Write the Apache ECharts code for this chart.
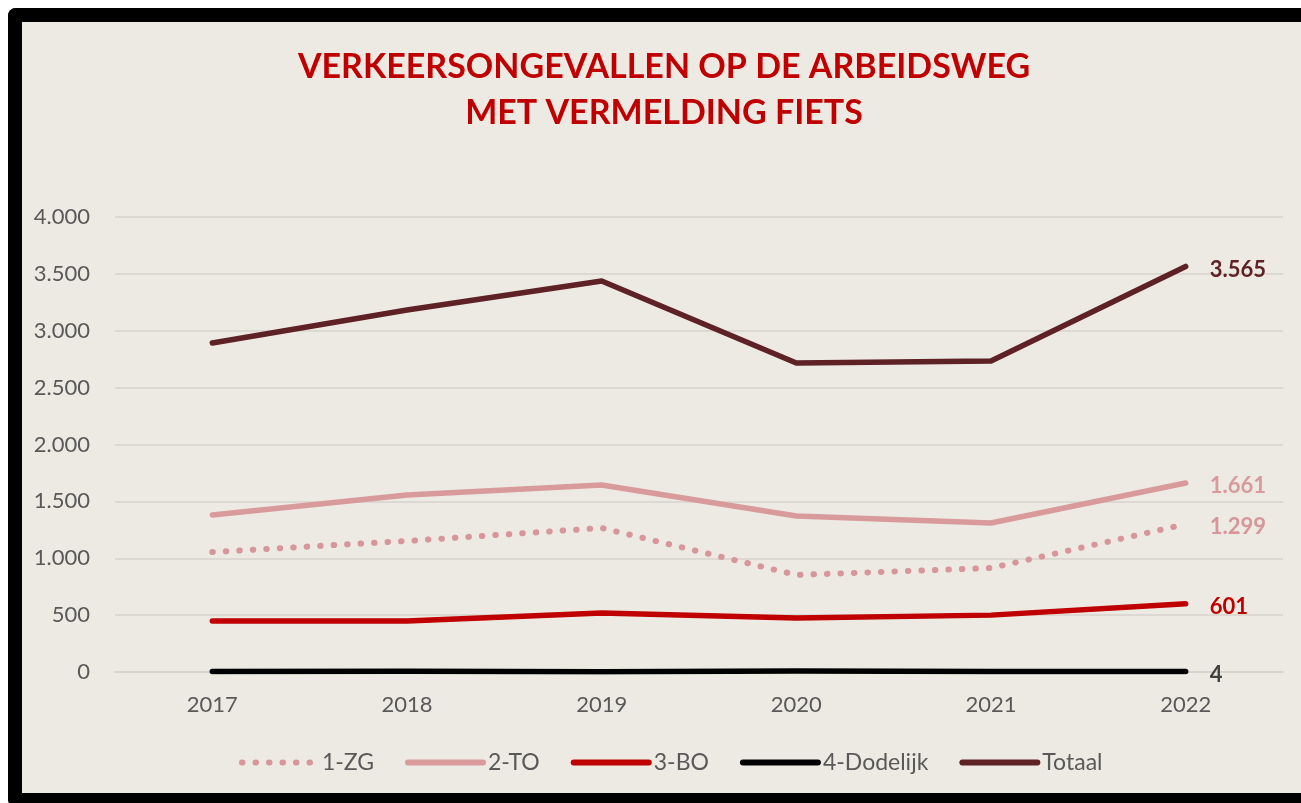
<!DOCTYPE html>
<html>
<head>
<meta charset="utf-8">
<script src="https://cdn.jsdelivr.net/npm/echarts@6/dist/echarts.min.js"></script>
<style>
  html, body { margin: 0; padding: 0; background: #ffffff; overflow: hidden; }
  #page { position: relative; width: 1301px; height: 803px; overflow: hidden; background: #ffffff; }
  #frame {
    position: absolute; left: 8px; top: 8px; width: 1400px; height: 771px;
    border: 14px solid #000; border-right: none; border-radius: 8px 0 0 8px; background: #edeae3;
  }
  #chart { position: absolute; left: 0; top: 0; width: 1301px; height: 803px; }
</style>
</head>
<body>
<div id="page">
  <div id="frame"></div>
  <div id="chart"></div>
</div>
<script>
// categorieen en waarden
const years = ['2017', '2018', '2019', '2020', '2021', '2022'];
const zg = [1055, 1152, 1266, 853, 914, 1299];
const to = [1380, 1556, 1644, 1371, 1310, 1661];
const bo = [448, 448, 519, 475, 500, 601];
const dodelijk = [5, 6, 3, 8, 5, 4];
const totaal = [2892, 3182, 3437, 2716, 2734, 3565];

function fmt(v) {
    return String(v).replace(/\B(?=(\d{3})+(?!\d))/g, '.');
}

const font = 'Lato, "Open Sans", sans-serif';

function serie(name, data, color, dotted) {
    return {
        name: name,
        type: 'line',
        data: data,
        symbol: 'none',
        lineStyle: dotted
            ? { color: color, width: 6, type: [0.5, 13], cap: 'round' }
            : { color: color, width: 5.5, cap: 'round', join: 'round' },
        itemStyle: { color: color },
        endLabel: {
            show: true,
            distance: 24,
            offset: [0, 3],
            color: color === '#000000' ? '#404040' : color,
            fontFamily: font,
            fontWeight: 'bold',
            fontSize: 22,
            formatter: function (p) { return fmt(p.value); }
        }
    };
}

var myChart = echarts.init(document.getElementById('chart'));
myChart.setOption({
    backgroundColor: 'transparent',
    animation: false,
    title: {
        text: 'VERKEERSONGEVALLEN OP DE ARBEIDSWEG\nMET VERMELDING FIETS',
        left: 664,
        top: 44,
        padding: 0,
        textAlign: 'center',
        textStyle: {
            color: '#c00000',
            fontFamily: font,
            fontWeight: 'bold',
            fontSize: 34,
            lineHeight: 46
        }
    },
    legend: {
        left: 234,
        top: 746,
        itemWidth: 75,
        itemHeight: 14,
        itemGap: 31,
        itemStyle: { opacity: 0 },
        lineStyle: { width: 6, cap: 'round' },
        textStyle: { color: '#595959', fontFamily: font, fontSize: 23 },
        data: ['1-ZG', '2-TO', '3-BO', '4-Dodelijk', 'Totaal']
    },
    grid: { left: 115, right: 18, top: 217, bottom: 131 },
    xAxis: {
        type: 'category',
        data: years,
        boundaryGap: true,
        axisLine: { lineStyle: { color: '#d6d3cc', width: 1.5 } },
        axisTick: { show: false },
        axisLabel: { color: '#595959', fontFamily: font, fontSize: 22, margin: 22 }
    },
    yAxis: {
        type: 'value',
        min: 0,
        max: 4000,
        interval: 500,
        axisLine: { show: false },
        axisTick: { show: false },
        splitLine: { lineStyle: { color: '#d6d3cc', width: 1.5 } },
        axisLabel: {
            color: '#595959', fontFamily: font, fontSize: 22, margin: 25,
            formatter: fmt
        }
    },
    series: [
        serie('1-ZG', zg, '#d8959a', true),
        serie('2-TO', to, '#d99a9c', false),
        serie('3-BO', bo, '#c00000', false),
        serie('4-Dodelijk', dodelijk, '#000000', false),
        serie('Totaal', totaal, '#5e2126', false)
    ]
});
</script>
</body>
</html>
